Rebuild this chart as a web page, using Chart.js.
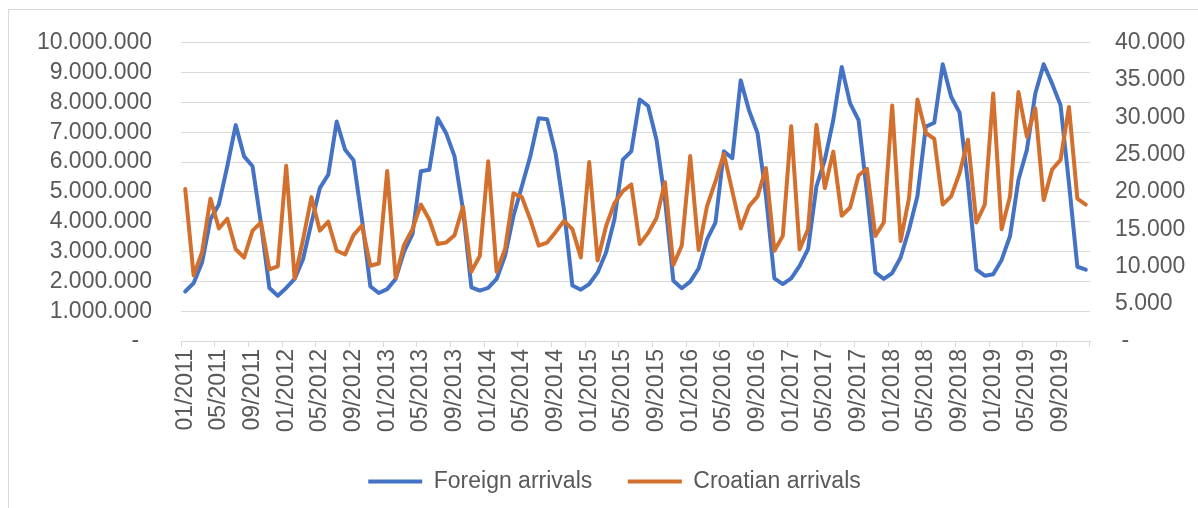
<!DOCTYPE html>
<html>
<head>
<meta charset="utf-8">
<script src="https://cdn.jsdelivr.net/npm/chart.js@4"></script>
<style>
  html, body { margin: 0; padding: 0; background: #fff; overflow: hidden; }
  #wrap { position: relative; width: 1198px; height: 508px; }
  #frame { position: absolute; left: 8px; top: 9px; width: 1300px; height: 600px;
           border-top: 1px solid #d9d9d9; border-left: 1px solid #d9d9d9; }
  canvas { position: absolute; left: 0; top: 0; }
</style>
</head>
<body>
<div id="wrap">
  <div id="frame"></div>
  <canvas id="chart" width="1198" height="508"></canvas>
</div>
<script>
// Godine i mjeseci (01/2011 - 12/2019)
const years = [2011, 2012, 2013, 2014, 2015, 2016, 2017, 2018, 2019];
const monthNames = ['01', '02', '03', '04', '05', '06', '07', '08', '09', '10', '11', '12'];

// Dolasci stranih gostiju (lijeva os)
const foreignArrivals = [
    1660000, 1940000, 2630000, 4080000, 4580000, 5860000, 7240000, 6190000, 5860000, 3950000, 1780000, 1520000,
    1780000, 2080000, 2740000, 3970000, 5130000, 5580000, 7360000, 6410000, 6060000, 4080000, 1830000, 1610000,
    1740000, 2080000, 3000000, 3580000, 5690000, 5740000, 7470000, 6970000, 6190000, 4410000, 1800000, 1690000,
    1780000, 2080000, 2860000, 4190000, 5190000, 6190000, 7470000, 7440000, 6300000, 4410000, 1860000, 1720000,
    1910000, 2300000, 2970000, 4080000, 6080000, 6360000, 8100000, 7880000, 6740000, 4740000, 2020000, 1770000,
    1990000, 2430000, 3410000, 3970000, 6360000, 6130000, 8740000, 7720000, 6970000, 4860000, 2100000, 1910000,
    2100000, 2520000, 3080000, 5190000, 6080000, 7410000, 9190000, 7970000, 7410000, 4970000, 2300000, 2080000,
    2280000, 2800000, 3740000, 4860000, 7190000, 7320000, 9280000, 8190000, 7660000, 5300000, 2390000, 2190000,
    2240000, 2720000, 3520000, 5410000, 6410000, 8300000, 9280000, 8630000, 7910000, 5300000, 2490000, 2390000
];

// Dolasci domaćih gostiju (desna os)
const croatianArrivals = [
    20400, 8800, 11900, 19100, 15100, 16400, 12300, 11200, 14800, 15900, 9600, 10000,
    23500, 8400, 13600, 19300, 14800, 16000, 12100, 11600, 14200, 15500, 10100, 10400,
    22800, 8500, 12900, 15000, 18300, 16300, 13000, 13200, 14200, 18000, 9300, 11400,
    24100, 9300, 12300, 19800, 19300, 16300, 12800, 13200, 14600, 16100, 15000, 11200,
    24000, 10800, 15400, 18500, 20100, 21000, 13000, 14500, 16500, 21300, 10200, 12800,
    24800, 12200, 18100, 21400, 25100, 20100, 15100, 18100, 19400, 23200, 12100, 14100,
    28800, 12300, 15000, 29000, 20500, 25400, 16800, 17900, 22200, 23100, 14100, 15900,
    31600, 13400, 19200, 32400, 27900, 27100, 18300, 19400, 22500, 27000, 15900, 18300,
    33200, 15000, 19400, 33400, 27400, 31200, 18900, 23000, 24300, 31400, 19100, 18300
];

const seriesNames = ['Foreign arrivals', 'Croatian arrivals'];

// Kategorije osi X
const categories = [];
years.forEach(y => monthNames.forEach(m => categories.push(m + '/' + y)));

const textColor = '#595959';
const gridColor = '#d9d9d9';
const fontFamily = '"Liberation Sans", Arial, sans-serif';

// Format broja s točkom kao separatorom tisućica
function formatNumber(n) {
    return String(Math.round(n)).replace(/\B(?=(\d{3})+(?!\d))/g, '.');
}

Chart.defaults.font.family = fontFamily;
Chart.defaults.font.size = 23;
Chart.defaults.color = textColor;

new Chart(document.getElementById('chart').getContext('2d'), {
    type: 'line',
    data: {
        labels: categories,
        datasets: [
            {
                label: seriesNames[0],
                data: foreignArrivals,
                yAxisID: 'y',
                borderColor: '#4472c4',
                backgroundColor: '#4472c4',
                borderWidth: 4,
                pointRadius: 0,
                tension: 0,
                borderJoinStyle: 'round',
                borderCapStyle: 'round',
                order: 1
            },
            {
                label: seriesNames[1],
                data: croatianArrivals,
                yAxisID: 'y2',
                borderColor: '#d4702e',
                backgroundColor: '#d4702e',
                borderWidth: 4,
                pointRadius: 0,
                tension: 0,
                borderJoinStyle: 'round',
                borderCapStyle: 'round',
                order: 0
            }
        ]
    },
    options: {
        responsive: false,
        animation: false,
        events: [],
        layout: { padding: { top: 37, left: 31, right: 0, bottom: 5 } },
        plugins: {
            legend: {
                position: 'bottom',
                labels: {
                    usePointStyle: true,
                    pointStyle: 'line',
                    pointStyleWidth: 54,
                    boxHeight: 23,
                    padding: 10,
                    color: textColor,
                    font: { size: 23 },
                    sort: (a, b) => a.datasetIndex - b.datasetIndex,
                    // razmak između stavki legende
                    generateLabels: (chart) => {
                        const items = Chart.defaults.plugins.legend.labels.generateLabels(chart);
                        items.forEach(item => {
                            if (item.datasetIndex === 0) item.text = item.text + '    ';
                        });
                        return items;
                    }
                }
            },
            tooltip: { enabled: false }
        },
        scales: {
            x: {
                type: 'category',
                offset: true,
                border: { display: true, color: gridColor, width: 1 },
                grid: {
                    offset: true,
                    drawOnChartArea: false,
                    drawTicks: true,
                    tickLength: 6,
                    lineWidth: 1,
                    color: (ctx) => (ctx.index === undefined || ctx.index % 4 === 0) ? gridColor : 'rgba(0,0,0,0)'
                },
                ticks: {
                    autoSkip: false,
                    minRotation: 90,
                    maxRotation: 90,
                    padding: 2,
                    color: textColor,
                    callback: (value, index) => index % 4 === 0 ? categories[index] : ''
                },
                afterFit: (scale) => { scale.height = 119; }
            },
            y: {
                position: 'left',
                min: 0,
                max: 10000000,
                border: { display: false },
                grid: { color: gridColor, lineWidth: 1, drawTicks: false },
                ticks: {
                    stepSize: 1000000,
                    autoSkip: false,
                    padding: 29,
                    color: textColor,
                    callback: (v) => v === 0 ? '-  ' : formatNumber(v)
                },
                afterFit: (scale) => { scale.width = 150; }
            },
            y2: {
                position: 'right',
                min: 0,
                max: 40000,
                border: { display: false },
                grid: { drawOnChartArea: false, drawTicks: false },
                ticks: {
                    stepSize: 5000,
                    autoSkip: false,
                    padding: 25,
                    color: textColor,
                    callback: (v) => v === 0 ? ' -' : formatNumber(v)
                },
                afterFit: (scale) => { scale.width = 108; }
            }
        }
    }
});
</script>
</body>
</html>
